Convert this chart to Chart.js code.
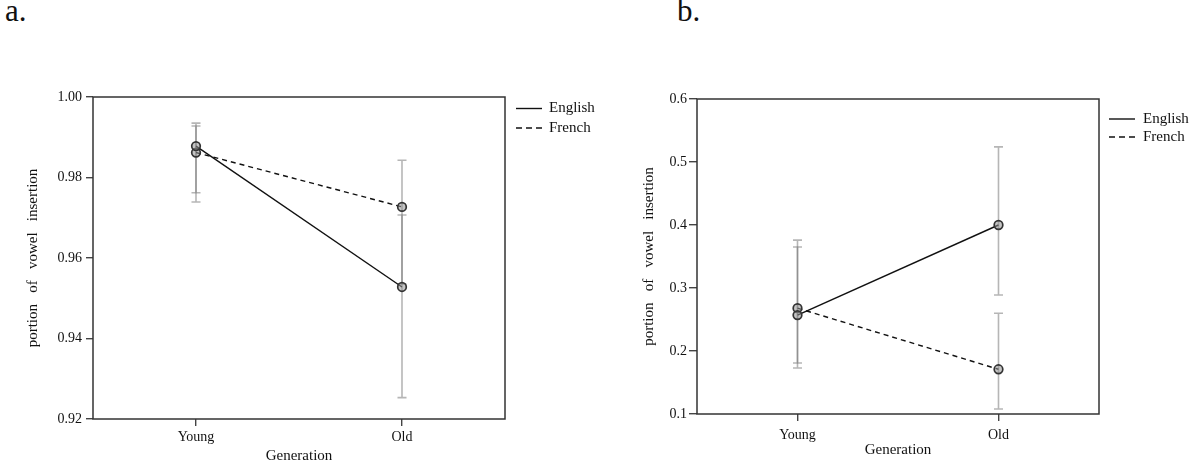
<!DOCTYPE html>
<html>
<head>
<meta charset="utf-8">
<script src="https://cdn.jsdelivr.net/npm/chart.js@4.4.1/dist/chart.umd.min.js"></script>
<style>
html,body{margin:0;padding:0;background:#fff;}
body{width:1193px;height:465px;position:relative;overflow:hidden;font-family:"Liberation Serif","Times New Roman",serif;}
.lbl{position:absolute;font-size:31px;line-height:31px;color:#111;}
#ca{position:absolute;left:0;top:0;}
#cb{position:absolute;left:600px;top:0;}
</style>
</head>
<body>
<div class="lbl" style="left:5px;top:-5px">a.</div>
<div class="lbl" style="left:677px;top:-5px">b.</div>
<canvas id="ca" width="600" height="465" style="width:600px;height:465px"></canvas>
<canvas id="cb" width="593" height="465" style="width:593px;height:465px"></canvas>
<script>
// ---------- data ----------
const categories = ['Young', 'Old'];
const seriesNames = ['English', 'French'];
const xTitle = 'Generation';
const yTitle = 'portion   of   vowel   insertion';

// panel a
const englishA = [0.9878, 0.9528];
const frenchA = [0.9862, 0.9727];
const englishA_lo = [0.9762, 0.9253];
const englishA_hi = [0.9935, 0.9707];
const frenchA_lo = [0.9739, 0.9535];
const frenchA_hi = [0.9928, 0.9843];
const yTicksA = [0.92, 0.94, 0.96, 0.98, 1.00];
const yTickLabelsA = ['0.92', '0.94', '0.96', '0.98', '1.00'];

// panel b
const englishB = [0.257, 0.400];
const frenchB = [0.268, 0.171];
const englishB_lo = [0.173, 0.289];
const englishB_hi = [0.365, 0.524];
const frenchB_lo = [0.181, 0.108];
const frenchB_hi = [0.376, 0.260];
const yTicksB = [0.1, 0.2, 0.3, 0.4, 0.5, 0.6];
const yTickLabelsB = ['0.1', '0.2', '0.3', '0.4', '0.5', '0.6'];

// ---------- plugins ----------
const FONT = '"Liberation Serif", "Times New Roman", serif';

const errorBars = {
  id: 'errorBars',
  beforeDatasetsDraw(chart, args, opts) {
    const {ctx, scales: {x, y}} = chart;
    ctx.save();
    ctx.strokeStyle = opts.color;
    ctx.lineWidth = opts.width;
    const cap = opts.cap;
    opts.bars.forEach(b => {
      b.lo.forEach((lo, i) => {
        const px = x.getPixelForValue(i);
        const y1 = y.getPixelForValue(lo);
        const y2 = y.getPixelForValue(b.hi[i]);
        ctx.beginPath();
        ctx.moveTo(px, y1); ctx.lineTo(px, y2);
        ctx.moveTo(px - cap, y1); ctx.lineTo(px + cap, y1);
        ctx.moveTo(px - cap, y2); ctx.lineTo(px + cap, y2);
        ctx.stroke();
      });
    });
    ctx.restore();
  }
};

const frameBox = {
  id: 'frameBox',
  afterDraw(chart, args, opts) {
    const {ctx, chartArea: a} = chart;
    ctx.save();
    ctx.strokeStyle = opts.color;
    ctx.lineWidth = opts.width;
    ctx.strokeRect(a.left, a.top, a.right - a.left, a.bottom - a.top);
    ctx.restore();
  }
};

const sideLegend = {
  id: 'sideLegend',
  afterDraw(chart, args, opts) {
    const {ctx, chartArea: a} = chart;
    ctx.save();
    ctx.font = opts.fontSize + 'px ' + FONT;
    ctx.textBaseline = 'middle';
    ctx.textAlign = 'left';
    chart.data.datasets.forEach((ds, i) => {
      const yy = a.top + opts.dy + i * opts.gap;
      ctx.strokeStyle = ds.borderColor;
      ctx.lineWidth = ds.borderWidth;
      ctx.setLineDash(ds.borderDash && ds.borderDash.length ? opts.dash : []);
      ctx.beginPath();
      ctx.moveTo(a.right + opts.lx0, yy);
      ctx.lineTo(a.right + opts.lx1, yy);
      ctx.stroke();
      ctx.setLineDash([]);
      ctx.fillStyle = '#111';
      ctx.fillText(ds.label, a.right + opts.tx, yy);
    });
    ctx.restore();
  }
};

function makeChart(id, p) {
  const tickFont = {family: FONT, size: 14};
  const titleFont = {family: FONT, size: 15};
  const pt = {pointRadius: 4.3, pointBorderWidth: 1.7, pointBorderColor: '#333',
              pointBackgroundColor: 'rgba(150,150,150,0.55)', tension: 0};
  return new Chart(document.getElementById(id), {
    type: 'line',
    data: {
      labels: categories,
      datasets: [
        Object.assign({label: seriesNames[0], data: p.eng, borderColor: '#111', borderWidth: 1.4, borderDash: []}, pt),
        Object.assign({label: seriesNames[1], data: p.fre, borderColor: '#111', borderWidth: 1.4, borderDash: [5, 4]}, pt)
      ]
    },
    options: {
      responsive: false,
      animation: false,
      events: [],
      layout: {padding: {top: p.top, right: p.right, bottom: p.bottom, left: 0}},
      plugins: {
        legend: {display: false},
        tooltip: {enabled: false},
        errorBars: {color: 'rgba(110,110,110,0.5)', width: 1.6, cap: 4.5, bars: p.bars},
        frameBox: {color: '#333', width: 1.5},
        sideLegend: p.legend
      },
      scales: {
        x: {
          type: 'category',
          offset: true,
          grid: {display: true, drawOnChartArea: false, drawTicks: true, tickLength: 7, color: '#444', lineWidth: 1.4, offset: false},
          border: {display: false},
          ticks: {color: '#111', font: tickFont, padding: p.xPad, autoSkip: false, maxRotation: 0},
          title: {display: true, text: xTitle, color: '#111', font: titleFont, padding: {top: 0, bottom: 0}},
          afterFit(s) { s.height = p.xH; }
        },
        y: {
          type: 'linear',
          min: p.yTicks[0],
          max: p.yTicks[p.yTicks.length - 1],
          afterBuildTicks(s) { s.ticks = p.yTicks.map(v => ({value: v})); },
          grid: {display: true, drawOnChartArea: false, drawTicks: true, tickLength: p.yTl, color: '#444', lineWidth: 1.4},
          border: {display: false},
          ticks: {color: '#111', font: tickFont, padding: p.yPad,
                  callback: (v, i) => p.yLabels[i]},
          title: {display: true, text: yTitle, color: '#111', font: titleFont, padding: {top: p.yTitlePad, bottom: 0}},
          afterFit(s) { s.width = p.yW; }
        }
      }
    },
    plugins: [errorBars, frameBox, sideLegend]
  });
}

makeChart('ca', {
  eng: englishA, fre: frenchA,
  bars: [{lo: englishA_lo, hi: englishA_hi}, {lo: frenchA_lo, hi: frenchA_hi}],
  yTicks: yTicksA, yLabels: yTickLabelsA,
  top: 97, right: 95, bottom: 0, xH: 46, xPad: 3,
  yW: 93, yTl: 7, yPad: 4, yTitlePad: 24,
  legend: {lx0: 11, lx1: 37, tx: 44, dy: 11.5, gap: 19.5, fontSize: 15, dash: [6, 4]}
});

makeChart('cb', {
  eng: englishB, fre: frenchB,
  bars: [{lo: englishB_lo, hi: englishB_hi}, {lo: frenchB_lo, hi: frenchB_hi}],
  yTicks: yTicksB, yLabels: yTickLabelsB,
  top: 99, right: 94, bottom: 6, xH: 45, xPad: 5.5,
  yW: 97, yTl: 8, yPad: 2, yTitlePad: 40,
  legend: {lx0: 10, lx1: 36, tx: 44, dy: 20, gap: 18, fontSize: 15, dash: [6, 4]}
});
</script>
</body>
</html>
